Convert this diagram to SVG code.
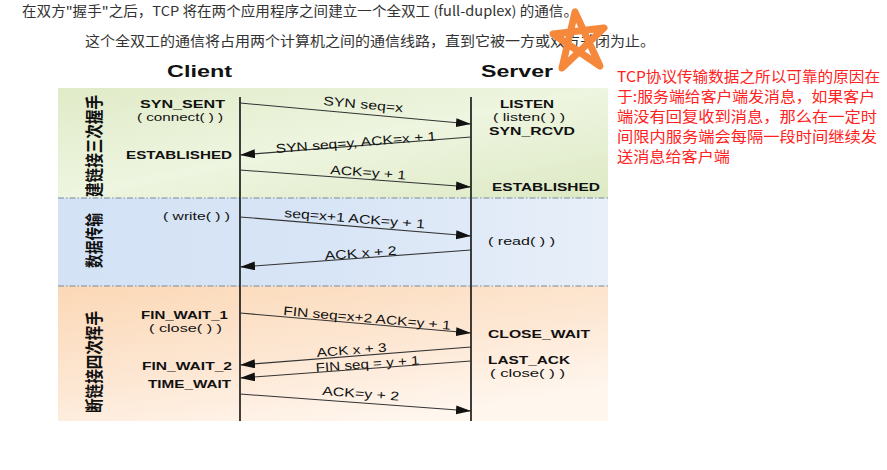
<svg xmlns="http://www.w3.org/2000/svg" width="887" height="470" viewBox="0 0 887 470">
<style>
.top{font-family:"Noto Sans CJK SC","Liberation Sans",sans-serif;font-size:14px;fill:#333}
.hdr{font-family:"Liberation Sans",Arial,sans-serif;font-size:16.5px;font-weight:bold;fill:#111}
.st{font-family:"Liberation Sans",Arial,sans-serif;font-size:11.5px;font-weight:bold;fill:#111}
.fn{font-family:"Liberation Sans",Arial,sans-serif;font-size:11px;fill:#111}
.msg{font-family:"Liberation Sans",Arial,sans-serif;font-size:12.5px;fill:#111}
.vt{font-family:"Noto Sans CJK SC",sans-serif;font-size:18px;font-weight:bold;fill:#111}
.note{font-family:"Noto Sans CJK SC","Liberation Serif",sans-serif;font-size:15px;fill:#ff2222}
.arrow{stroke:#333;stroke-width:1.1;fill:none;marker-end:url(#ah)}
.life{stroke:#111;stroke-width:1.6}
.sep{stroke:#7a8a9a;stroke-width:1.2;stroke-dasharray:6,2,1.5,2}
</style>
<defs>
<marker id="ah" markerUnits="userSpaceOnUse" markerWidth="18" markerHeight="10" refX="15" refY="4.5" orient="auto">
<path d="M0,0 L15,4.5 L0,9 z" fill="#111"/>
</marker>
<linearGradient id="gG" x1="0" y1="0" x2="1" y2="1">
<stop offset="0" stop-color="#e0ebc8"/>
<stop offset="0.5" stop-color="#eef5e0"/>
<stop offset="1" stop-color="#dde9c4"/>
</linearGradient>
<linearGradient id="gB" x1="0" y1="0" x2="1" y2="0">
<stop offset="0" stop-color="#d3e2f5"/>
<stop offset="0.5" stop-color="#d8e5f6"/>
<stop offset="1" stop-color="#e8eff9"/>
</linearGradient>
<linearGradient id="gO" x1="0" y1="0" x2="0.6" y2="1">
<stop offset="0" stop-color="#fbd8b6"/>
<stop offset="0.6" stop-color="#fde8d5"/>
<stop offset="1" stop-color="#fff6ee"/>
</linearGradient>
</defs>
<rect width="887" height="470" fill="#fff"/>

<g id="intro">
<text class="top" x="22" y="16" style="font-size:13.5px" textLength="556" lengthAdjust="spacingAndGlyphs">在双方"握手"之后，TCP 将在两个应用程序之间建立一个全双工 (full-duplex) 的通信。</text>
<text class="top" x="85" y="46" textLength="570" lengthAdjust="spacingAndGlyphs">这个全双工的通信将占用两个计算机之间的通信线路，直到它被一方或双方关闭为止。</text>
</g>

<g id="bands">
<rect x="58" y="88" width="550" height="110" fill="url(#gG)"/>
<rect x="58" y="198" width="550" height="88" fill="url(#gB)"/>
<rect x="58" y="286" width="550" height="135" fill="url(#gO)"/>
<line class="sep" x1="58" y1="198" x2="608" y2="198"/>
<line class="sep" x1="58" y1="286" x2="608" y2="286"/>
</g>

<g id="client">
<text class="hdr" x="167" y="77" textLength="65" lengthAdjust="spacingAndGlyphs">Client</text>
<line class="life" x1="240" y1="97" x2="240" y2="421"/>
<text class="st" x="140" y="108" textLength="85" lengthAdjust="spacingAndGlyphs">SYN_SENT</text>
<text class="fn" x="137" y="121" textLength="86" lengthAdjust="spacingAndGlyphs">( connect( ) )</text>
<text class="st" x="126" y="159" textLength="106" lengthAdjust="spacingAndGlyphs">ESTABLISHED</text>
<text class="fn" x="163" y="220" textLength="67" lengthAdjust="spacingAndGlyphs">( write( ) )</text>
<text class="st" x="141" y="319" textLength="87" lengthAdjust="spacingAndGlyphs">FIN_WAIT_1</text>
<text class="fn" x="149" y="332" textLength="73" lengthAdjust="spacingAndGlyphs">( close( ) )</text>
<text class="st" x="142" y="370" textLength="90" lengthAdjust="spacingAndGlyphs">FIN_WAIT_2</text>
<text class="st" x="148" y="388" textLength="83" lengthAdjust="spacingAndGlyphs">TIME_WAIT</text>
</g>

<g id="server">
<text class="hdr" x="481" y="77" textLength="72" lengthAdjust="spacingAndGlyphs">Server</text>
<line class="life" x1="471" y1="97" x2="471" y2="421"/>
<text class="st" x="500" y="108" textLength="54" lengthAdjust="spacingAndGlyphs">LISTEN</text>
<text class="fn" x="493" y="121" textLength="72" lengthAdjust="spacingAndGlyphs">( listen( ) )</text>
<text class="st" x="489" y="135" textLength="86" lengthAdjust="spacingAndGlyphs">SYN_RCVD</text>
<text class="st" x="492" y="191" textLength="108" lengthAdjust="spacingAndGlyphs">ESTABLISHED</text>
<text class="fn" x="488" y="245" textLength="67" lengthAdjust="spacingAndGlyphs">( read( ) )</text>
<text class="st" x="488" y="338" textLength="102" lengthAdjust="spacingAndGlyphs">CLOSE_WAIT</text>
<text class="st" x="488" y="364" textLength="82" lengthAdjust="spacingAndGlyphs">LAST_ACK</text>
<text class="fn" x="490" y="377" textLength="75" lengthAdjust="spacingAndGlyphs">( close( ) )</text>
</g>

<g id="phases">
<text class="vt" transform="translate(101,197) rotate(-90)" textLength="102" lengthAdjust="spacingAndGlyphs">建链接三次握手</text>
<text class="vt" transform="translate(101,268) rotate(-90)" textLength="55" lengthAdjust="spacingAndGlyphs">数据传输</text>
<text class="vt" transform="translate(101,413) rotate(-90)" textLength="102" lengthAdjust="spacingAndGlyphs">断链接四次挥手</text>
</g>

<g id="connectors">
<line class="arrow" x1="240" y1="103" x2="471" y2="124"/>
<line class="arrow" x1="471" y1="137" x2="240" y2="155"/>
<line class="arrow" x1="240" y1="170" x2="471" y2="187"/>
<line class="arrow" x1="240" y1="217" x2="471" y2="236"/>
<line class="arrow" x1="471" y1="250" x2="240" y2="267"/>
<line class="arrow" x1="240" y1="313" x2="471" y2="333"/>
<line class="arrow" x1="471" y1="347" x2="240" y2="365"/>
<line class="arrow" x1="471" y1="361" x2="240" y2="378"/>
<line class="arrow" x1="240" y1="394" x2="471" y2="411"/>
<text class="msg" transform="translate(323,105) rotate(5.2)" textLength="80" lengthAdjust="spacingAndGlyphs">SYN seq=x</text>
<text class="msg" transform="translate(276,153) rotate(-4.5)" textLength="161" lengthAdjust="spacingAndGlyphs">SYN seq=y, ACK=x + 1</text>
<text class="msg" transform="translate(330,174) rotate(4.2)" textLength="76" lengthAdjust="spacingAndGlyphs">ACK=y + 1</text>
<text class="msg" transform="translate(284,217) rotate(4.7)" textLength="141" lengthAdjust="spacingAndGlyphs">seq=x+1 ACK=y + 1</text>
<text class="msg" transform="translate(325,260) rotate(-4.2)" textLength="72" lengthAdjust="spacingAndGlyphs">ACK x + 2</text>
<text class="msg" transform="translate(283,315) rotate(5)" textLength="168" lengthAdjust="spacingAndGlyphs">FIN seq=x+2 ACK=y + 1</text>
<text class="msg" transform="translate(317,357) rotate(-4.5)" textLength="70" lengthAdjust="spacingAndGlyphs">ACK x + 3</text>
<text class="msg" transform="translate(316,372) rotate(-4.2)" textLength="104" lengthAdjust="spacingAndGlyphs">FIN seq = y + 1</text>
<text class="msg" transform="translate(322,395) rotate(4.2)" textLength="77" lengthAdjust="spacingAndGlyphs">ACK=y + 2</text>
</g>

<g id="star">
<path d="M575,12 L562,68 L604,28 L553,34 L600,66 Z" fill="none" stroke="#f5883a" stroke-width="7" stroke-linejoin="round" stroke-linecap="round"/>
</g>

<g id="note">
<text class="note" x="617" y="82" textLength="263" lengthAdjust="spacingAndGlyphs">TCP协议传输数据之所以可靠的原因在</text>
<text class="note" x="617" y="102" textLength="258" lengthAdjust="spacingAndGlyphs">于:服务端给客户端发消息，如果客户</text>
<text class="note" x="617" y="122" textLength="260" lengthAdjust="spacingAndGlyphs">端没有回复收到消息，那么在一定时</text>
<text class="note" x="617" y="142" textLength="260" lengthAdjust="spacingAndGlyphs">间限内服务端会每隔一段时间继续发</text>
<text class="note" x="617" y="162" textLength="113" lengthAdjust="spacingAndGlyphs">送消息给客户端</text>
</g>
</svg>
